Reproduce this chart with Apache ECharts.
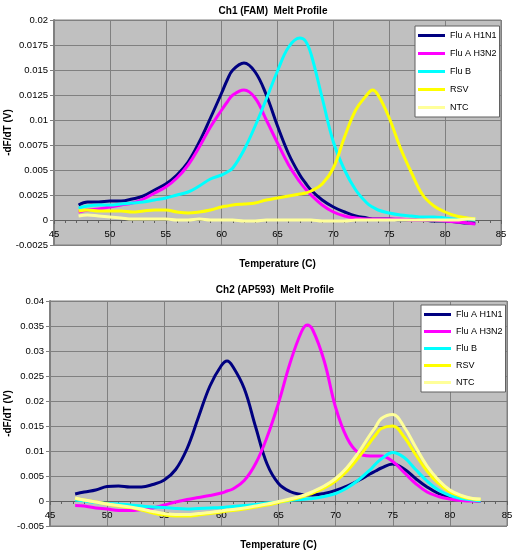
<!DOCTYPE html>
<html>
<head>
<meta charset="utf-8">
<script src="https://cdn.jsdelivr.net/npm/echarts@6/dist/echarts.min.js"></script>
<style>html,body{margin:0;padding:0;background:#fff}#c{width:512px;height:550px}</style>
</head>
<body>
<div id="c"></div>
<script>
// Shared temperature grid (°C)
const temps = [47.2,48,49,50,51,52,53,54,55,56,57,58,59,60,60.5,61,62,63,64,65,66,67,67.5,68,69,70,71,72,73,73.5,74,75,76,77,78,79,80,81,82,82.7];

const seriesNames = ['Flu A H1N1','Flu A H3N2','Flu B','RSV','NTC'];

// Ch1 (FAM)
const ch1_H1N1 = [0.0015,0.0018,0.0018,0.0019,0.0019,0.0021,0.0024,0.003,0.0036,0.0045,0.0058,0.0078,0.0102,0.0127,0.014,0.015,0.0157,0.0148,0.0125,0.0094,0.0066,0.0045,0.0037,0.003,0.002,0.0013,0.0008,0.0004,0.0002,0.0001,0.0001,0.0001,0,0,0,-0.0001,-0.0001,-0.0002,-0.0003,-0.0003];
const ch1_H3N2 = [0.0008,0.001,0.0011,0.0013,0.0015,0.0017,0.0021,0.0027,0.0033,0.0042,0.0055,0.0073,0.0093,0.011,0.0118,0.0125,0.013,0.0122,0.01,0.0077,0.0055,0.0038,0.0031,0.0025,0.0015,0.0008,0.0004,0.0002,0.0001,0.0001,0.0001,0.0001,0.0001,0,0,0,-0.0001,-0.0002,-0.0003,-0.0004];
const ch1_FluB = [0.0012,0.0014,0.0015,0.0015,0.0016,0.0017,0.0018,0.002,0.0022,0.0025,0.0028,0.0034,0.0041,0.0045,0.0048,0.0052,0.007,0.0094,0.0121,0.0149,0.0173,0.0182,0.0179,0.0166,0.0122,0.0078,0.005,0.003,0.0017,0.0013,0.001,0.0007,0.0005,0.0004,0.0003,0.0003,0.0002,0.0001,0.0001,0];
const ch1_RSV = [0.0009,0.001,0.0009,0.0009,0.0009,0.0008,0.0009,0.001,0.001,0.0008,0.0007,0.0008,0.001,0.0013,0.0014,0.0015,0.0016,0.0017,0.002,0.0022,0.0024,0.0026,0.0027,0.0029,0.0036,0.0052,0.0083,0.011,0.0125,0.013,0.0125,0.0102,0.0072,0.0047,0.0025,0.0014,0.0008,0.0004,0.0002,0.0001];
const ch1_NTC = [0.0004,0.0005,0.0004,0.0003,0.0002,0.0001,0.0001,0.0001,0.0001,0,0,0.0001,0,0,0,0,-0.0001,-0.0001,0,0,0,0,0,0,-0.0001,-0.0001,-0.0001,0,0,0,0,0,0,0,0,0,0,0,0.0001,0.0001];

// Ch2 (AP593)
const ch2_H1N1 = [0.0014,0.0018,0.0022,0.0029,0.003,0.0028,0.0028,0.0033,0.0042,0.0063,0.0105,0.0168,0.023,0.0271,0.028,0.0269,0.0225,0.0148,0.0074,0.0035,0.0019,0.0013,0.0012,0.0012,0.0015,0.0021,0.003,0.0041,0.0054,0.006,0.0066,0.0074,0.0064,0.0045,0.0028,0.0015,0.0008,0.0003,0.0001,0];
const ch2_H3N2 = [-0.0009,-0.001,-0.0014,-0.0016,-0.0019,-0.0019,-0.0017,-0.0014,-0.0008,-0.0002,0.0003,0.0007,0.0011,0.0016,0.002,0.0024,0.0041,0.0075,0.0128,0.0196,0.0275,0.0338,0.0352,0.0342,0.028,0.0187,0.0126,0.0096,0.009,0.009,0.009,0.0079,0.0057,0.0035,0.0018,0.0009,0.0004,0.0001,0,0];
const ch2_FluB = [0.0002,0,-0.0003,-0.0005,-0.0006,-0.0008,-0.001,-0.0012,-0.0013,-0.0015,-0.0016,-0.0015,-0.0014,-0.0013,-0.0012,-0.0011,-0.0009,-0.0007,-0.0004,-0.0002,0.0001,0.0003,0.0004,0.0005,0.0009,0.0015,0.0026,0.0042,0.0062,0.0074,0.0084,0.0097,0.0087,0.0063,0.004,0.0022,0.0011,0.0005,0.0002,0];
const ch2_RSV = [0.0005,0.0002,-0.0002,-0.0006,-0.001,-0.0013,-0.0018,-0.0024,-0.0028,-0.003,-0.003,-0.0028,-0.0025,-0.0022,-0.002,-0.0019,-0.0016,-0.0012,-0.0008,-0.0003,0.0002,0.0008,0.0012,0.0016,0.0026,0.004,0.006,0.0087,0.0117,0.0132,0.0145,0.015,0.0128,0.0093,0.006,0.0035,0.0018,0.0009,0.0004,0.0003];
const ch2_NTC = [0.0006,0.0002,-0.0002,-0.0006,-0.0009,-0.0012,-0.0016,-0.0021,-0.0025,-0.0027,-0.0027,-0.0025,-0.0023,-0.002,-0.0018,-0.0017,-0.0014,-0.001,-0.0006,-0.0001,0.0004,0.001,0.0014,0.0019,0.003,0.0045,0.0067,0.0097,0.0132,0.0148,0.0165,0.0173,0.0148,0.0108,0.007,0.0042,0.0022,0.0011,0.0005,0.0004];

const titles = ['Ch1 (FAM)  Melt Profile', 'Ch2 (AP593)  Melt Profile'];
const xTitle = 'Temperature (C)';
const yTitle = '-dF/dT (V)';
const colors = ['#000080','#FF00FF','#00FFFF','#FFFF00','#FFFF99'];

const FONT = 'Liberation Sans, Arial, sans-serif';
const ch1 = [ch1_H1N1, ch1_H3N2, ch1_FluB, ch1_RSV, ch1_NTC];
const ch2 = [ch2_H1N1, ch2_H3N2, ch2_FluB, ch2_RSV, ch2_NTC];

// x axis sits at y = 0 (Excel-style crossing); offset moves it up from grid bottom
function xAx(gi, off){
  return {
    type:'value', gridIndex:gi, min:45, max:85, interval:5, offset:off,
    name:xTitle, nameLocation:'middle', nameGap:39, nameMoveOverlap:false,
    nameTextStyle:{fontFamily:FONT, fontWeight:'bold', fontSize:10, color:'#000'},
    axisLine:{onZero:false, lineStyle:{color:'#606060', width:1}},
    axisTick:{show:true, length:4, lineStyle:{color:'#606060'}},
    minorTick:{show:true, splitNumber:5, length:3, lineStyle:{color:'#606060'}},
    axisLabel:{fontFamily:FONT, fontSize:9.5, color:'#000', margin:9},
    splitLine:{show:true, lineStyle:{color:'#808080', width:1}}
  };
}
function yAx(gi, min, max, interval, gap){
  return {
    type:'value', gridIndex:gi, min:min, max:max, interval:interval,
    name:yTitle, nameLocation:'middle', nameRotate:90, nameGap:gap, nameMoveOverlap:false,
    nameTextStyle:{fontFamily:FONT, fontWeight:'bold', fontSize:10, color:'#000'},
    axisLine:{show:true, lineStyle:{color:'#808080', width:2}},
    axisTick:{show:true, length:4, lineStyle:{color:'#808080'}},
    axisLabel:{fontFamily:FONT, fontSize:9.5, color:'#000', margin:6,
      formatter:v => String(Math.round(v*1e6)/1e6)},
    splitLine:{show:true, lineStyle:{color:'#808080', width:1}}
  };
}

const series = [];
[ch1, ch2].forEach((ch, gi) => {
  ch.forEach((vals, si) => {
    series.push({
      name: seriesNames[si], type:'line', xAxisIndex:gi, yAxisIndex:gi,
      data: temps.map((t,i)=>[t, vals[i]]),
      smooth:0.4, showSymbol:false, symbol:'none',
      lineStyle:{color:colors[si], width:3},
      itemStyle:{color:colors[si]},
      emphasis:{disabled:true}
    });
  });
});

function legend(left, top, gap){
  return {
    show:true, orient:'vertical', left:left, top:top,
    data: seriesNames.map(n=>({name:n})),
    icon:'rect', itemWidth:27, itemHeight:3, itemGap:gap,
    backgroundColor:'#fff', borderColor:'#606060', borderWidth:1,
    padding:[4,3,4,3], borderRadius:0,
    textStyle:{fontFamily:FONT, fontSize:9, color:'#000', lineHeight:11},
    selectedMode:false
  };
}

const chart = echarts.init(document.getElementById('c'), null, {renderer:'canvas'});
chart.setOption({
  animation:false,
  backgroundColor:'#fff',
  title:[
    {text:titles[0], left:268, top:1, textAlign:'center', textStyle:{fontFamily:FONT, fontWeight:'bold', fontSize:10, color:'#000'}},
    {text:titles[1], left:270, top:280, textAlign:'center', textStyle:{fontFamily:FONT, fontWeight:'bold', fontSize:10, color:'#000'}}
  ],
  grid:[
    {left:54, top:20, width:447, height:225, show:true, backgroundColor:'#C0C0C0', borderColor:'#808080', borderWidth:1, outerBoundsMode:'none', containLabel:false},
    {left:50, top:301, width:457, height:225, show:true, backgroundColor:'#C0C0C0', borderColor:'#808080', borderWidth:1, outerBoundsMode:'none', containLabel:false}
  ],
  xAxis:[xAx(0,-25), xAx(1,-25)],
  yAxis:[yAx(0,-0.0025,0.02,0.0025,41), yAx(1,-0.005,0.04,0.005,37)],
  legend:[legend(415,26,7), legend(421,305,6)],
  series:series
});
</script>
</body>
</html>
